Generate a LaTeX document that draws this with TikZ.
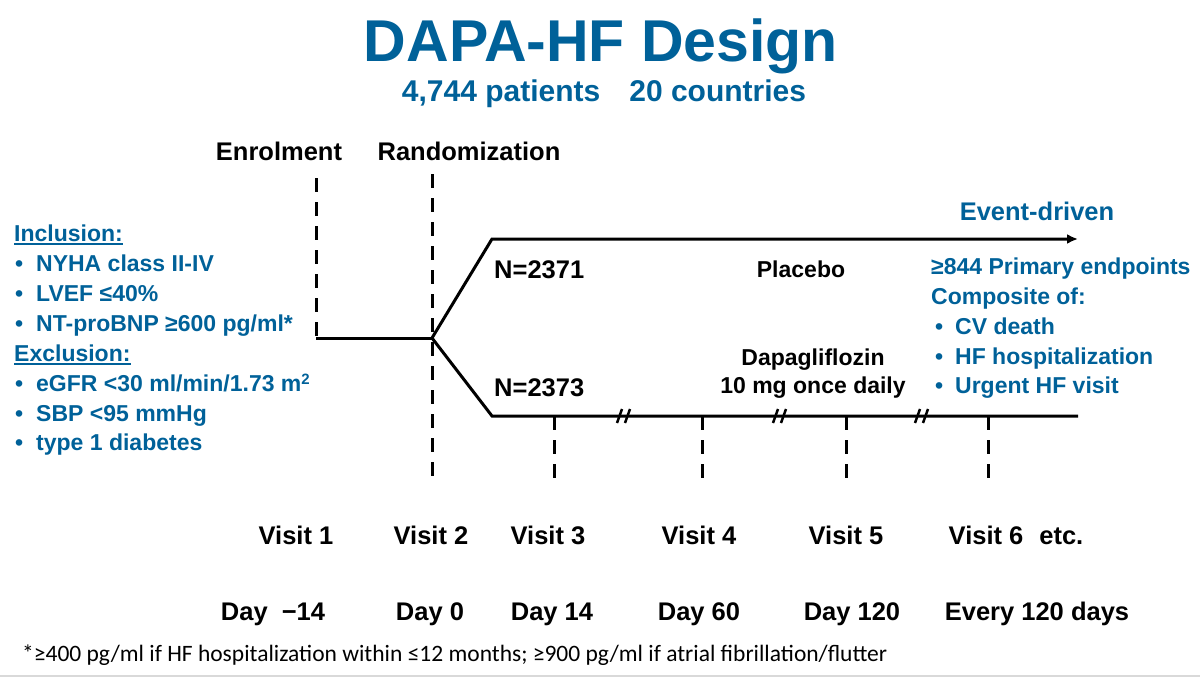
\documentclass[tikz,border=0pt]{standalone}
\usepackage{fontspec}
\setmainfont{Liberation Sans}
\newfontfamily\notefont{Carlito}
\usetikzlibrary{arrows.meta}
\definecolor{dapablue}{RGB}{0,97,153}
\newcommand{\hdrline}[1]{\setbox0\hbox{#1}\rlap{\rule[-3.5pt]{\wd0}{1.8pt}}\box0}
\newcommand{\blt}{\makebox[21pt][l]{•}}

\begin{document}
\begin{tikzpicture}[x=1pt,y=-1pt,
		txt/.style={inner sep=0pt,anchor=base,font=\bfseries\fontsize{25.5}{30}\selectfont},
		arm/.style={inner sep=0pt,anchor=base,font=\bfseries\fontsize{23}{28}\selectfont},
		list/.style={inner sep=0pt,anchor=base west,text=dapablue,font=\bfseries\fontsize{23}{28}\selectfont},
		track/.style={line width=3pt},
		dashline/.style={line width=3pt,dash pattern=on 14pt off 10pt},
		brk/.style={line width=2.5pt}]
		\useasboundingbox (0,0) rectangle (1200,677);
		% title
		\node[inner sep=0pt,anchor=base,text=dapablue,font=\bfseries\fontsize{59}{70}\selectfont] (ttl) at (601,62) {DAPA-HF Design};
		\node[inner sep=0pt,anchor=base,text=dapablue,font=\bfseries\fontsize{30}{36}\selectfont] (sub) at (604,101) {4,744 patients\hspace{29pt}20 countries};
		\node[txt] (enrol) at (279,160) {Enrolment};
		\node[txt] (rand) at (469,160) {Randomization};
		% time line
		\coordinate (etop) at (316,178);
		\coordinate (ebot) at (316,338);
		\coordinate (rtop) at (432,174);
		\coordinate (rbot) at (432,480);
		\coordinate (split) at (432,338);
		\coordinate (up) at (492,239);
		\coordinate (upend) at (1078,239);
		\coordinate (lo) at (492,416);
		\coordinate (loend) at (1078,416);
		\draw[dashline] (etop) -- (ebot);
		\draw[dashline] (rtop) -- (rbot);
		\draw[track] (ebot) -- (split);
		\draw[track,-{Latex[length=11pt,width=10pt]}] (split) -- (up) -- (upend);
		\draw[track] (split) -- (lo) -- (loend);
		\foreach \x in {554,702,846,988}
			\draw[dashline] (\x,416) -- (\x,480);
		\foreach \x in {624,780,922} {
			\draw[brk] (\x-7,423) -- (\x-2,409);
			\draw[brk] (\x+1,423) -- (\x+6,409);
		}
		% arms
		\node[txt,anchor=base west] (nup) at (494,278) {N=2371};
		\node[txt,anchor=base west] (nlo) at (494,396) {N=2373};
		\node[arm] (plac) at (801,277) {Placebo};
		\node[arm] (dapa) at (813,365) {Dapagliflozin};
		\node[arm] (dose) at (813,393) {10 mg once daily};
		\node[txt,text=dapablue] (event) at (1037,220) {Event-driven};
		% criteria
		\node[list] (incl) at (14,241) {\hdrline{Inclusion:}};
		\node[list] (nyha) at (15,271) {\blt NYHA class II-IV};
		\node[list] (lvef) at (15,301) {\blt LVEF ≤40\%};
		\node[list] (bnp) at (15,331) {\blt NT-proBNP ≥600 pg/ml*};
		\node[list] (excl) at (14,361) {\hdrline{Exclusion:}};
		\node[list] (egfr) at (15,391) {\blt eGFR <30 ml/min/1.73 m\raisebox{7pt}{\fontsize{15}{18}\selectfont 2}};
		\node[list] (sbp) at (15,421) {\blt SBP <95 mmHg};
		\node[list] (dm) at (15,450) {\blt type 1 diabetes};
		% endpoints
		\node[list] (prim) at (931,274) {≥844 Primary endpoints};
		\node[list] (comp) at (931,304) {Composite of:};
		\node[list] (cvd) at (935,334) {\makebox[20pt][l]{•}CV death};
		\node[list] (hfh) at (935,364) {\makebox[20pt][l]{•}HF hospitalization};
		\node[list] (uhf) at (935,393) {\makebox[20pt][l]{•}Urgent HF visit};
		% visits
		\node[txt] (v1) at (296,544) {Visit 1};
		\node[txt] (v2) at (431,544) {Visit 2};
		\node[txt] (v3) at (548,544) {Visit 3};
		\node[txt] (v4) at (699,544) {Visit 4};
		\node[txt] (v5) at (846,544) {Visit 5};
		\node[txt] (v6) at (1016,544) {Visit 6\hspace{16pt}etc.};
		\node[txt] (d1) at (273,620) {Day\hspace{14pt}−14};
		\node[txt] (d2) at (430,620) {Day 0};
		\node[txt] (d3) at (552,620) {Day 14};
		\node[txt] (d4) at (699,620) {Day 60};
		\node[txt] (d5) at (852,620) {Day 120};
		\node[txt] (d6) at (1037,620) {Every 120 days};
		% footnote
		\node[inner sep=0pt,anchor=base west,font=\notefont\fontsize{23.5}{28}\selectfont] (fn) at (22,661) {*≥400 pg/ml if HF hospitalization within ≤12 months; ≥900 pg/ml if atrial fibrillation/flutter};
		\draw[black!15,line width=2pt] (0,676) -- (1200,676);
	\end{tikzpicture}
\end{document}
